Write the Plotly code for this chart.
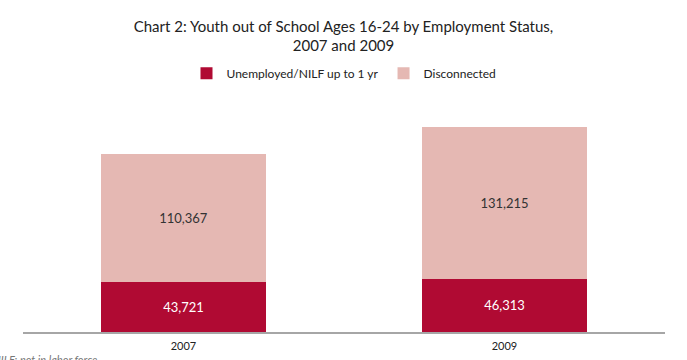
import plotly.graph_objects as go

years = ["2007", "2009"]
unemployed = [43721, 46313]
disconnected = [110367, 131215]
totals = [154088, 177528]

DARK = "#B00A33"
PINK = "#E5B8B3"
FONT = "Lato, 'Open Sans', sans-serif"

fig = go.Figure()
fig.add_trace(go.Bar(
    x=years, y=unemployed, name="Unemployed/NILF up to 1 yr",
    marker=dict(color=DARK, line=dict(width=0)),
    text=[f"{v:,}" for v in unemployed], textposition="inside",
    insidetextanchor="middle", textfont=dict(color="white", size=13, family=FONT),
))
fig.add_trace(go.Bar(
    x=years, y=disconnected, name="Disconnected",
    marker=dict(color=PINK, line=dict(width=0)),
    text=[f"{v:,}" for v in disconnected], textposition="inside",
    insidetextanchor="middle", textfont=dict(color="#333333", size=13, family=FONT),
))

for yr, t in zip(years, totals):
    fig.add_annotation(x=yr, y=t, text=f"{t:,}", showarrow=False,
                       yanchor="bottom", yshift=13,
                       font=dict(size=13, color="#222222", family=FONT))

fig.add_annotation(xref="paper", yref="paper", x=-0.05, y=-0.118,
                   xanchor="left", yanchor="middle", showarrow=False,
                   text="<i>NILF: not in labor force</i>",
                   font=dict(size=11, color="#777777", family=FONT))

fig.update_layout(
    width=687, height=360,
    barmode="stack", bargap=0.486,
    uniformtext=dict(mode="show", minsize=8),
    title=dict(text="Chart 2: Youth out of School Ages 16-24 by Employment Status,<br>2007 and 2009",
               x=0.5, xanchor="center", y=0.912, yanchor="top",
               font=dict(size=15, color="#222222", family=FONT)),
    legend=dict(orientation="h", x=0.5, xanchor="center", y=1.115, yanchor="middle",
                font=dict(size=12, color="#222222", family=FONT),
                itemsizing="constant", traceorder="normal"),
    margin=dict(l=23, r=22, t=100, b=28),
    paper_bgcolor="white", plot_bgcolor="white",
    xaxis=dict(showline=True, linecolor="#A6A6A6", linewidth=2, ticks="",
               tickfont=dict(size=11, color="#222222", family=FONT),
               ticklabelstandoff=3, automargin=False,
               showgrid=False, range=[-0.5, 1.5]),
    yaxis=dict(visible=False, range=[0, 201200], showgrid=False, automargin=False),
    showlegend=True,
)

fig.write_html("out.html", config={"displayModeBar": False},
               post_script="document.body.style.margin='0';")
